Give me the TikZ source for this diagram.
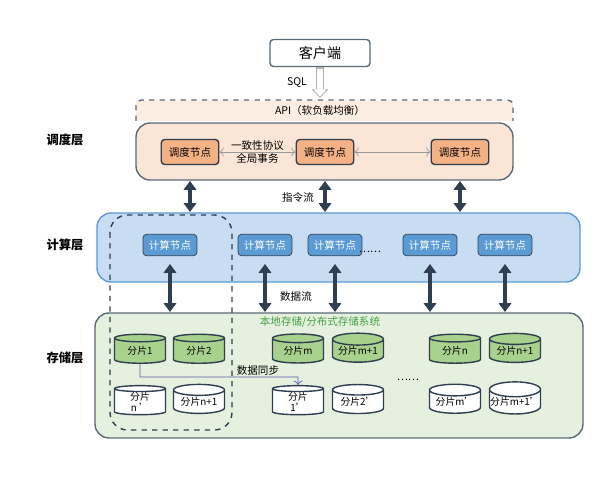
\documentclass[tikz,border=0pt]{standalone}
\usepackage{fontspec}
\setmainfont{Noto Sans CJK SC}
\usetikzlibrary{shapes.geometric,arrows.meta,positioning}
\definecolor{peach}{HTML}{FBE5D6}
\definecolor{orangenode}{HTML}{F4B183}
\definecolor{bluebg}{HTML}{C9DDF2}
\definecolor{bluenode}{HTML}{5B9BD5}
\definecolor{greenbg}{HTML}{E6F0DE}
\definecolor{greennode}{HTML}{A9D18E}
\definecolor{navy}{HTML}{2F3E50}
\definecolor{edgegray}{HTML}{5A6A7A}
\begin{document}
\begin{tikzpicture}[x=0.02cm,y=-0.02cm,font=\fontsize{6}{7}\selectfont]
\tikzset{layer/.style={draw=edgegray,thick,rounded corners=8pt},
         sched/.style={draw=navy,thick,fill=orangenode,rounded corners=2pt,minimum width=1.15cm,minimum height=0.5cm},
         calc/.style={draw=navy,fill=bluenode,text=white,rounded corners=2pt,minimum width=1.05cm,minimum height=0.42cm},
         shard/.style={cylinder,shape border rotate=90,aspect=0.3,draw=navy,thick,minimum width=1.02cm,minimum height=0.58cm,inner sep=0pt,align=center,font=\fontsize{5.6}{6.4}\selectfont},
         flow/.style={{Triangle[length=5pt,width=7pt]}-{Triangle[length=5pt,width=7pt]},line width=2.5pt,navy},
         thin arrow/.style={<->,gray!80,line width=0.4pt},
         lab/.style={font=\fontsize{7}{8}\selectfont\bfseries}}
\useasboundingbox (0,0) rectangle (600,480);
% client and API
\node[draw=edgegray,thick,rounded corners=2pt,minimum width=2cm,minimum height=0.54cm,font=\fontsize{8}{9}\selectfont] (client) at (320,53) {客户端};
\fill[peach!70] (136,100) rectangle (513,121);
\draw[edgegray,thick,dashed,rounded corners=3pt] (136,121) -- (136,100) -- (513,100) -- (513,121);
\node (api) at (320,110) {API（软负载均衡）};
\draw[-{Triangle[open,length=5pt,width=9pt]},line width=5pt,gray!60] (client.south) -- (320,98);
\draw[-{Triangle[length=4pt,width=7pt]},line width=3pt,white] (client.south) ++(0,1.5) -- (320,96.5);
\node (sql) at (297,83) {SQL};
% scheduling layer
\node[lab] (schedlab) at (65,140) {调度层};
\draw[layer,fill=peach] (136,123) rectangle (513,180);
\node[sched] (s1) at (190,152) {调度节点};
\node[sched] (s2) at (325,152) {调度节点};
\node[sched] (s3) at (460,152) {调度节点};
\draw[thin arrow] (s1) -- (s2) node[midway,align=center,text=black] {一致性协议\\全局事务};
\draw[thin arrow] (s2) -- (s3);
% compute layer
\node[lab] (calclab) at (65,245) {计算层};
\draw[layer,fill=bluebg,draw=bluenode] (97,213) rectangle (580,282);
\foreach \name/\x in {c1/170,c2/265,c3/335,c4/430,c5/505}
  \node[calc] (\name) at (\x,245) {计算节点};
\node (cdots) at (370,252) {……};
\draw[flow] (s1.south |- 0,181) -- (190,212);
\draw[flow] (s2.south |- 0,181) -- (325,212);
\draw[flow] (s3.south |- 0,181) -- (460,212);
\node (cmd) at (298,198) {指令流};
% storage layer
\node[lab] (storelab) at (65,358) {存储层};
\draw[layer,fill=greenbg] (95,313) rectangle (583,438);
\foreach \x in {170,265,335,430,505}
  \draw[flow] (\x,264) -- (\x,312);
\node (data) at (296,297) {数据流};
\node[text=green!40!gray!90!black] (sys) at (320,322) {本地存储/分布式存储系统};
\foreach \name/\x/\t in {a1/140/分片1,a2/199/分片2,a3/298/分片m,a4/358/分片m+1,a5/455/分片n,a6/515/分片n+1}
  \node[shard,fill=greennode] (\name) at (\x,351) {\t};
\foreach \name/\x/\t in {b1/140/{分片\\n ’},b2/199/{分片n+1},b3/298/{分片\\1’},b4/358/{分片2’},b5/455/{分片m’},b6/515/{分片m+1’}}
  \node[shard,fill=white] (\name) at (\x,402) {\t};
\draw[->,gray!70!blue,line width=0.4pt] (a1.south) |- (298,377) -- (b3.north);
\node (sync) at (258,371) {数据同步};
\node (sdots) at (408,380) {……};
% replica group
\draw[navy,thick,dashed,rounded corners=10pt] (110,215) rectangle (232,430);
\end{tikzpicture}
\end{document}
